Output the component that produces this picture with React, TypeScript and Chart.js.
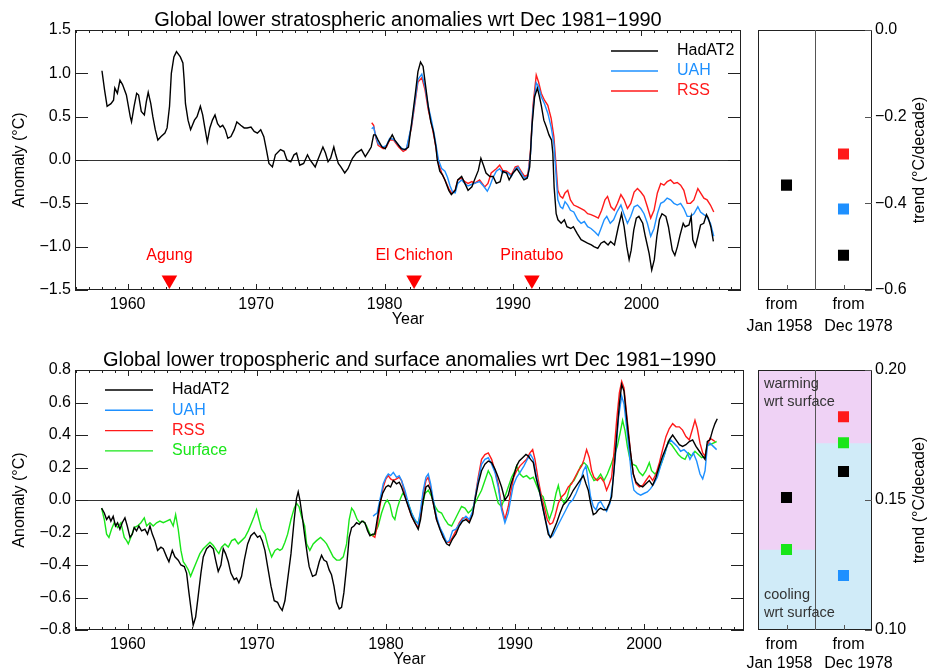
import React, { useEffect, useRef } from 'react';
import { Chart, registerables } from 'chart.js';

Chart.register(...registerables);

const FONT = "'Liberation Sans', Arial, Helvetica, sans-serif";

// ---------------- DATA ----------------
// Global lower stratosphere anomalies (year, °C)
const stratHadAT2: [number, number][] = [
  [1958.0, 1.03], [1958.2, 0.81], [1958.4, 0.62], [1958.7, 0.65], [1958.9, 0.69], [1959.0, 0.83], [1959.2, 0.77], [1959.4, 0.92],
  [1959.6, 0.87], [1959.9, 0.75], [1960.2, 0.5], [1960.3, 0.44], [1960.5, 0.62], [1960.7, 0.77], [1960.85, 0.75], [1961.06, 0.56],
  [1961.3, 0.52], [1961.45, 0.67], [1961.6, 0.78], [1961.8, 0.65], [1961.96, 0.5], [1962.15, 0.35], [1962.35, 0.23], [1962.6, 0.27],
  [1962.9, 0.31], [1963.07, 0.37], [1963.26, 0.62], [1963.4, 1.0], [1963.6, 1.19], [1963.8, 1.25], [1964.1, 1.19], [1964.3, 1.12],
  [1964.4, 0.92], [1964.5, 0.65], [1964.7, 0.46], [1964.9, 0.35], [1965.2, 0.46], [1965.4, 0.5], [1965.66, 0.62], [1965.84, 0.52],
  [1966.0, 0.38], [1966.2, 0.21], [1966.4, 0.37], [1966.6, 0.46], [1966.8, 0.52], [1967.0, 0.42], [1967.2, 0.38], [1967.4, 0.4],
  [1967.6, 0.35], [1967.8, 0.25], [1968.04, 0.27], [1968.3, 0.35], [1968.5, 0.44], [1968.8, 0.4], [1969.07, 0.37], [1969.3, 0.37],
  [1969.6, 0.38], [1969.85, 0.33], [1970.1, 0.31], [1970.36, 0.35], [1970.6, 0.27], [1970.8, 0.12], [1971.0, -0.04], [1971.27, -0.08],
  [1971.5, 0.06], [1971.9, 0.12], [1972.17, 0.1], [1972.4, 0.0], [1972.7, -0.02], [1972.95, 0.06], [1973.15, 0.08], [1973.4, -0.06],
  [1973.7, -0.04], [1974.0, 0.06], [1974.2, 0.0], [1974.6, -0.08], [1974.8, 0.0], [1975.2, 0.15], [1975.4, 0.08], [1975.6, -0.02],
  [1975.8, 0.02], [1976.05, 0.15], [1976.2, 0.06], [1976.4, -0.04], [1976.6, -0.08], [1976.9, -0.15], [1977.15, -0.1], [1977.5, 0.02],
  [1977.8, 0.08], [1978.0, 0.1], [1978.2, 0.12], [1978.5, 0.04], [1978.76, 0.1], [1978.96, 0.15], [1979.15, 0.29], [1979.3, 0.29],
  [1979.5, 0.23], [1979.8, 0.15], [1980.05, 0.13], [1980.3, 0.21], [1980.6, 0.29], [1980.8, 0.23], [1981.1, 0.17], [1981.3, 0.13],
  [1981.6, 0.12], [1981.86, 0.15], [1982.1, 0.42], [1982.4, 0.77], [1982.6, 1.02], [1982.8, 1.13], [1983.0, 1.08], [1983.2, 0.85],
  [1983.4, 0.62], [1983.6, 0.44], [1983.8, 0.33], [1984.0, 0.15], [1984.1, 0.0], [1984.3, -0.13], [1984.5, -0.17], [1984.7, -0.23],
  [1985.0, -0.35], [1985.2, -0.4], [1985.5, -0.35], [1985.7, -0.23], [1986.0, -0.19], [1986.25, -0.27], [1986.5, -0.35], [1986.8, -0.31],
  [1987.0, -0.23], [1987.3, -0.12], [1987.5, 0.02], [1987.7, -0.06], [1987.9, -0.15], [1988.2, -0.19], [1988.45, -0.19], [1988.7, -0.27],
  [1989.0, -0.25], [1989.2, -0.13], [1989.5, -0.15], [1989.7, -0.23], [1990.0, -0.15], [1990.3, -0.1], [1990.6, -0.17], [1990.85, -0.23],
  [1991.1, -0.21], [1991.3, -0.08], [1991.47, 0.38], [1991.68, 0.73], [1991.9, 0.83], [1992.06, 0.73], [1992.2, 0.63], [1992.4, 0.46],
  [1992.6, 0.38], [1992.8, 0.29], [1993.0, 0.23], [1993.1, 0.08], [1993.2, -0.31], [1993.36, -0.62], [1993.5, -0.69], [1993.75, -0.73],
  [1994.0, -0.69], [1994.2, -0.77], [1994.5, -0.79], [1994.7, -0.77], [1995.0, -0.85], [1995.3, -0.92], [1995.55, -0.94], [1995.8, -0.96],
  [1996.1, -0.98], [1996.3, -1.0], [1996.6, -1.02], [1996.85, -0.96], [1997.1, -0.94], [1997.4, -0.98], [1997.6, -0.94], [1997.9, -0.98],
  [1998.2, -0.77], [1998.45, -0.62], [1998.65, -0.77], [1998.86, -1.0], [1999.04, -1.15], [1999.2, -1.04], [1999.4, -0.81], [1999.6, -0.67],
  [1999.8, -0.65], [2000.1, -0.73], [2000.3, -0.88], [2000.6, -1.08], [2000.8, -1.27], [2001.0, -1.15], [2001.2, -0.88], [2001.4, -0.69],
  [2001.6, -0.62], [2001.9, -0.65], [2002.1, -0.77], [2002.4, -1.04], [2002.6, -1.1], [2002.8, -1.0], [2003.0, -0.87], [2003.25, -0.73],
  [2003.4, -0.77], [2003.7, -0.75], [2003.87, -0.65], [2004.0, -0.92], [2004.2, -1.0], [2004.4, -0.88], [2004.6, -0.75], [2004.85, -0.73],
  [2005.06, -0.63], [2005.2, -0.67], [2005.4, -0.77], [2005.6, -0.94],
];

const stratUAH: [number, number][] = [
  [1979.0, 0.36], [1979.15, 0.38], [1979.3, 0.28], [1979.5, 0.19], [1979.9, 0.15], [1980.15, 0.17], [1980.4, 0.25], [1980.7, 0.24],
  [1981.1, 0.17], [1981.45, 0.12], [1981.7, 0.13], [1982.1, 0.4], [1982.4, 0.72], [1982.6, 0.93], [1982.9, 0.99], [1983.15, 0.85],
  [1983.4, 0.62], [1983.65, 0.46], [1983.9, 0.27], [1984.2, 0.0], [1984.45, -0.1], [1984.7, -0.13], [1984.9, -0.2], [1985.1, -0.3],
  [1985.3, -0.37], [1985.5, -0.38], [1985.7, -0.27], [1986.0, -0.23], [1986.25, -0.27], [1986.5, -0.3], [1986.8, -0.28], [1987.0, -0.27],
  [1987.4, -0.25], [1987.7, -0.3], [1988.0, -0.36], [1988.2, -0.3], [1988.45, -0.2], [1988.7, -0.13], [1988.96, -0.1], [1989.2, -0.15],
  [1989.4, -0.14], [1989.6, -0.15], [1989.87, -0.19], [1990.18, -0.1], [1990.39, -0.08], [1990.64, -0.15], [1990.9, -0.21], [1991.16, -0.19],
  [1991.37, 0.08], [1991.55, 0.58], [1991.81, 0.89], [1991.99, 0.85], [1992.2, 0.73], [1992.45, 0.65], [1992.71, 0.54], [1992.97, 0.38],
  [1993.18, 0.19], [1993.36, -0.19], [1993.49, -0.46], [1993.69, -0.54], [1993.87, -0.56], [1994.05, -0.48], [1994.26, -0.52], [1994.47, -0.58],
  [1994.73, -0.6], [1995.04, -0.69], [1995.3, -0.73], [1995.55, -0.71], [1995.81, -0.77], [1996.07, -0.79], [1996.38, -0.83], [1996.64, -0.87],
  [1996.85, -0.79], [1997.1, -0.69], [1997.3, -0.65], [1997.57, -0.73], [1997.83, -0.69], [1998.09, -0.6], [1998.4, -0.52], [1998.65, -0.63],
  [1998.91, -0.73], [1999.17, -0.65], [1999.43, -0.54], [1999.69, -0.52], [1999.95, -0.56], [2000.2, -0.62], [2000.46, -0.73], [2000.72, -0.88],
  [2000.98, -0.79], [2001.24, -0.62], [2001.5, -0.5], [2001.75, -0.48], [2002.0, -0.44], [2002.27, -0.46], [2002.53, -0.5], [2002.79, -0.52],
  [2003.05, -0.5], [2003.3, -0.56], [2003.56, -0.65], [2003.82, -0.65], [2004.08, -0.62], [2004.39, -0.54], [2004.6, -0.6], [2004.86, -0.63],
  [2005.06, -0.65], [2005.37, -0.73], [2005.63, -0.88],
];

const stratRSS: [number, number][] = [
  [1979.0, 0.43], [1979.15, 0.4], [1979.3, 0.27], [1979.5, 0.17], [1979.9, 0.13], [1980.15, 0.15], [1980.4, 0.23], [1980.7, 0.23],
  [1981.1, 0.15], [1981.45, 0.1], [1981.7, 0.12], [1982.1, 0.38], [1982.4, 0.69], [1982.6, 0.9], [1982.9, 0.95], [1983.15, 0.81],
  [1983.4, 0.58], [1983.65, 0.42], [1983.9, 0.23], [1984.2, -0.04], [1984.45, -0.15], [1984.7, -0.23], [1985.0, -0.33], [1985.2, -0.38],
  [1985.5, -0.35], [1985.7, -0.23], [1986.0, -0.21], [1986.25, -0.25], [1986.5, -0.27], [1986.8, -0.25], [1987.0, -0.27], [1987.4, -0.23],
  [1987.8, -0.31], [1988.05, -0.27], [1988.3, -0.15], [1988.7, -0.1], [1988.96, -0.06], [1989.2, -0.12], [1989.5, -0.13], [1989.87, -0.17],
  [1990.18, -0.08], [1990.39, -0.07], [1990.64, -0.13], [1990.9, -0.19], [1991.16, -0.17], [1991.37, 0.12], [1991.55, 0.62], [1991.81, 0.98],
  [1991.99, 0.9], [1992.2, 0.77], [1992.45, 0.69], [1992.71, 0.63], [1992.97, 0.48], [1993.18, 0.27], [1993.36, -0.08], [1993.49, -0.35],
  [1993.69, -0.42], [1993.87, -0.44], [1994.05, -0.38], [1994.26, -0.35], [1994.47, -0.46], [1994.73, -0.52], [1995.04, -0.54], [1995.3, -0.56],
  [1995.55, -0.58], [1995.81, -0.62], [1996.07, -0.63], [1996.38, -0.65], [1996.64, -0.67], [1996.9, -0.58], [1997.16, -0.46], [1997.36, -0.42],
  [1997.62, -0.54], [1997.88, -0.58], [1998.14, -0.5], [1998.4, -0.4], [1998.65, -0.46], [1998.91, -0.56], [1999.17, -0.5], [1999.43, -0.37],
  [1999.69, -0.33], [1999.95, -0.37], [2000.2, -0.42], [2000.46, -0.54], [2000.72, -0.67], [2000.98, -0.58], [2001.24, -0.38], [2001.5, -0.27],
  [2001.75, -0.29], [2002.0, -0.25], [2002.27, -0.23], [2002.53, -0.27], [2002.79, -0.26], [2003.05, -0.29], [2003.3, -0.35], [2003.56, -0.5],
  [2003.82, -0.5], [2004.08, -0.46], [2004.39, -0.33], [2004.6, -0.38], [2004.86, -0.44], [2005.11, -0.46], [2005.37, -0.52], [2005.63, -0.6],
];

// Global lower troposphere and surface anomalies (year, °C)
const tropHadAT2: [number, number][] = [
  [1957.96, -0.05], [1958.17, -0.08], [1958.35, -0.12], [1958.53, -0.1], [1958.68, -0.13], [1958.86, -0.1], [1959.04, -0.16], [1959.2, -0.14],
  [1959.38, -0.18], [1959.56, -0.14], [1959.77, -0.11], [1959.95, -0.16], [1960.16, -0.23], [1960.34, -0.21], [1960.49, -0.17], [1960.67, -0.19],
  [1960.85, -0.16], [1961.06, -0.19], [1961.32, -0.18], [1961.52, -0.21], [1961.71, -0.16], [1961.89, -0.21], [1962.09, -0.25], [1962.3, -0.31],
  [1962.56, -0.29], [1962.74, -0.3], [1963.0, -0.35], [1963.18, -0.38], [1963.44, -0.31], [1963.64, -0.35], [1963.9, -0.37], [1964.11, -0.4],
  [1964.37, -0.41], [1964.55, -0.45], [1964.73, -0.57], [1964.94, -0.7], [1965.06, -0.77], [1965.25, -0.72], [1965.45, -0.59], [1965.66, -0.45],
  [1965.84, -0.35], [1966.1, -0.3], [1966.36, -0.28], [1966.62, -0.3], [1966.8, -0.37], [1967.0, -0.44], [1967.21, -0.4], [1967.39, -0.3],
  [1967.57, -0.33], [1967.78, -0.38], [1967.98, -0.45], [1968.24, -0.49], [1968.42, -0.48], [1968.6, -0.51], [1968.81, -0.47], [1969.02, -0.37],
  [1969.28, -0.27], [1969.53, -0.22], [1969.79, -0.2], [1970.05, -0.23], [1970.23, -0.22], [1970.41, -0.25], [1970.62, -0.31], [1970.83, -0.41],
  [1971.09, -0.53], [1971.34, -0.62], [1971.6, -0.63], [1971.78, -0.66], [1971.96, -0.68], [1972.17, -0.62], [1972.38, -0.49], [1972.64, -0.33],
  [1972.89, -0.12], [1973.07, 0.01], [1973.2, 0.05], [1973.33, 0.0], [1973.51, -0.1], [1973.72, -0.23], [1973.93, -0.35], [1974.05, -0.41],
  [1974.31, -0.47], [1974.57, -0.46], [1974.83, -0.38], [1975.01, -0.34], [1975.19, -0.37], [1975.4, -0.38], [1975.6, -0.43], [1975.78, -0.46],
  [1975.97, -0.53], [1976.17, -0.63], [1976.38, -0.67], [1976.56, -0.66], [1976.74, -0.57], [1976.95, -0.41], [1977.15, -0.23], [1977.34, -0.17],
  [1977.52, -0.16], [1977.72, -0.14], [1977.93, -0.15], [1978.14, -0.13], [1978.37, -0.14], [1978.58, -0.19], [1978.76, -0.22], [1978.96, -0.21],
  [1979.14, -0.21], [1979.32, -0.12], [1979.53, -0.02], [1979.74, 0.04], [1980.0, 0.08], [1980.18, 0.09], [1980.36, 0.08], [1980.57, 0.12],
  [1980.82, 0.1], [1981.03, 0.11], [1981.21, 0.08], [1981.47, 0.02], [1981.73, -0.04], [1981.99, -0.1], [1982.24, -0.14], [1982.5, -0.18],
  [1982.68, -0.12], [1982.89, 0.0], [1983.1, 0.08], [1983.28, 0.09], [1983.46, 0.06], [1983.67, -0.02], [1983.92, -0.12], [1984.18, -0.18],
  [1984.44, -0.23], [1984.7, -0.27], [1984.91, -0.28], [1985.16, -0.24], [1985.42, -0.21], [1985.68, -0.16], [1985.94, -0.13], [1986.2, -0.12],
  [1986.46, -0.14], [1986.72, -0.09], [1986.9, 0.0], [1987.15, 0.1], [1987.41, 0.18], [1987.67, 0.22], [1987.93, 0.24], [1988.19, 0.23],
  [1988.45, 0.19], [1988.7, 0.14], [1988.96, 0.08], [1989.22, 0.0], [1989.48, 0.03], [1989.7, 0.1], [1989.87, 0.14], [1990.13, 0.21],
  [1990.33, 0.24], [1990.59, 0.26], [1990.85, 0.28], [1991.03, 0.27], [1991.21, 0.25], [1991.42, 0.23], [1991.63, 0.14], [1991.88, 0.06],
  [1992.14, -0.04], [1992.4, -0.14], [1992.58, -0.21], [1992.76, -0.23], [1992.97, -0.19], [1993.23, -0.14], [1993.49, -0.08], [1993.74, -0.03],
  [1994.0, -0.01], [1994.26, 0.02], [1994.52, 0.06], [1994.78, 0.09], [1995.04, 0.12], [1995.3, 0.15], [1995.5, 0.1], [1995.68, 0.06],
  [1995.86, -0.02], [1996.07, -0.09], [1996.28, -0.08], [1996.46, -0.06], [1996.64, -0.05], [1996.85, -0.06], [1997.1, -0.06], [1997.31, -0.02],
  [1997.49, 0.02], [1997.67, 0.18], [1997.88, 0.39], [1998.09, 0.59], [1998.27, 0.71], [1998.45, 0.67], [1998.6, 0.55], [1998.78, 0.41],
  [1998.96, 0.29], [1999.17, 0.16], [1999.38, 0.11], [1999.64, 0.09], [1999.9, 0.08], [2000.15, 0.1], [2000.41, 0.12], [2000.67, 0.09],
  [2000.93, 0.14], [2001.19, 0.21], [2001.44, 0.27], [2001.7, 0.32], [2001.96, 0.37], [2002.22, 0.4], [2002.48, 0.37], [2002.74, 0.34],
  [2002.99, 0.33], [2003.25, 0.34], [2003.51, 0.36], [2003.77, 0.37], [2004.03, 0.33], [2004.29, 0.3], [2004.55, 0.27], [2004.73, 0.25],
  [2004.91, 0.36], [2005.11, 0.37], [2005.32, 0.43], [2005.5, 0.47], [2005.68, 0.5],
];

const tropUAH: [number, number][] = [
  [1979.0, -0.1], [1979.14, -0.09], [1979.32, -0.08], [1979.53, 0.0], [1979.79, 0.1], [1980.0, 0.14], [1980.18, 0.16], [1980.36, 0.15],
  [1980.57, 0.17], [1980.82, 0.14], [1981.03, 0.15], [1981.21, 0.12], [1981.47, 0.06], [1981.73, -0.02], [1981.99, -0.08], [1982.24, -0.12],
  [1982.5, -0.15], [1982.68, -0.06], [1982.89, 0.06], [1983.1, 0.14], [1983.28, 0.16], [1983.46, 0.1], [1983.67, 0.0], [1983.92, -0.1],
  [1984.18, -0.17], [1984.44, -0.21], [1984.7, -0.26], [1984.91, -0.25], [1985.16, -0.19], [1985.42, -0.18], [1985.68, -0.15], [1985.94, -0.12],
  [1986.2, -0.1], [1986.46, -0.12], [1986.72, -0.07], [1986.9, 0.01], [1987.15, 0.12], [1987.41, 0.22], [1987.67, 0.25], [1987.93, 0.26],
  [1988.19, 0.22], [1988.45, 0.17], [1988.7, 0.08], [1988.96, -0.06], [1989.22, -0.14], [1989.48, -0.08], [1989.61, -0.02], [1989.87, 0.09],
  [1990.13, 0.14], [1990.39, 0.17], [1990.7, 0.21], [1990.95, 0.25], [1991.21, 0.28], [1991.42, 0.25], [1991.68, 0.14], [1991.94, 0.04],
  [1992.19, -0.06], [1992.45, -0.15], [1992.71, -0.23], [1992.92, -0.22], [1993.18, -0.18], [1993.43, -0.14], [1993.69, -0.1], [1993.95, -0.06],
  [1994.21, -0.02], [1994.47, 0.0], [1994.73, 0.04], [1995.04, 0.1], [1995.3, 0.18], [1995.5, 0.21], [1995.68, 0.12], [1995.86, 0.02],
  [1996.07, -0.04], [1996.28, -0.06], [1996.46, -0.02], [1996.64, -0.01], [1996.85, -0.04], [1997.1, -0.07], [1997.36, -0.02], [1997.57, 0.1],
  [1997.83, 0.31], [1998.03, 0.51], [1998.27, 0.64], [1998.45, 0.59], [1998.65, 0.45], [1998.86, 0.29], [1999.04, 0.14], [1999.22, 0.06],
  [1999.48, 0.04], [1999.74, 0.03], [1999.99, 0.04], [2000.26, 0.05], [2000.51, 0.07], [2000.77, 0.1], [2001.03, 0.14], [2001.29, 0.21],
  [2001.55, 0.27], [2001.81, 0.34], [2002.06, 0.37], [2002.32, 0.35], [2002.58, 0.33], [2002.84, 0.3], [2003.1, 0.31], [2003.36, 0.29],
  [2003.56, 0.25], [2003.82, 0.29], [2004.08, 0.24], [2004.34, 0.16], [2004.55, 0.13], [2004.73, 0.18], [2004.91, 0.33], [2005.11, 0.35],
  [2005.37, 0.33], [2005.63, 0.31],
];

const tropRSS: [number, number][] = [
  [1978.96, -0.22], [1979.14, -0.23], [1979.32, -0.16], [1979.53, -0.04], [1979.79, 0.08], [1980.0, 0.13], [1980.18, 0.15], [1980.36, 0.13],
  [1980.57, 0.12], [1980.82, 0.13], [1981.03, 0.14], [1981.21, 0.12], [1981.47, 0.04], [1981.73, -0.04], [1981.99, -0.1], [1982.24, -0.14],
  [1982.5, -0.17], [1982.68, -0.1], [1982.89, 0.04], [1983.1, 0.12], [1983.28, 0.14], [1983.46, 0.08], [1983.67, -0.02], [1983.92, -0.12],
  [1984.18, -0.17], [1984.44, -0.23], [1984.7, -0.26], [1984.91, -0.26], [1985.16, -0.23], [1985.42, -0.19], [1985.68, -0.14], [1985.94, -0.11],
  [1986.2, -0.11], [1986.46, -0.13], [1986.72, -0.08], [1986.9, 0.01], [1987.15, 0.14], [1987.41, 0.25], [1987.67, 0.28], [1987.93, 0.29],
  [1988.19, 0.25], [1988.45, 0.18], [1988.7, 0.1], [1988.96, -0.04], [1989.22, -0.12], [1989.48, -0.04], [1989.7, 0.06], [1989.9, 0.14],
  [1990.13, 0.18], [1990.39, 0.21], [1990.64, 0.23], [1990.9, 0.25], [1991.16, 0.29], [1991.37, 0.31], [1991.55, 0.25], [1991.81, 0.12],
  [1992.06, 0.02], [1992.32, -0.06], [1992.5, -0.12], [1992.71, -0.15], [1992.92, -0.14], [1993.1, -0.1], [1993.36, -0.02], [1993.62, 0.02],
  [1993.87, 0.04], [1994.13, 0.08], [1994.39, 0.1], [1994.65, 0.14], [1994.91, 0.18], [1995.17, 0.21], [1995.35, 0.25], [1995.55, 0.31],
  [1995.76, 0.26], [1995.94, 0.18], [1996.12, 0.14], [1996.38, 0.12], [1996.64, 0.14], [1996.9, 0.11], [1997.1, 0.06], [1997.31, 0.1],
  [1997.49, 0.14], [1997.67, 0.29], [1997.88, 0.49], [1998.09, 0.66], [1998.27, 0.73], [1998.45, 0.69], [1998.6, 0.57], [1998.78, 0.43],
  [1998.96, 0.29], [1999.17, 0.16], [1999.38, 0.1], [1999.64, 0.08], [1999.9, 0.09], [2000.15, 0.12], [2000.41, 0.15], [2000.67, 0.12],
  [2000.93, 0.16], [2001.19, 0.23], [2001.44, 0.31], [2001.7, 0.39], [2001.96, 0.44], [2002.22, 0.47], [2002.48, 0.45], [2002.74, 0.45],
  [2002.99, 0.43], [2003.25, 0.39], [2003.51, 0.37], [2003.77, 0.44], [2003.95, 0.49], [2004.13, 0.44], [2004.34, 0.35], [2004.55, 0.29],
  [2004.73, 0.27], [2004.91, 0.33], [2005.11, 0.38], [2005.32, 0.37], [2005.5, 0.36],
];

const tropSurface: [number, number][] = [
  [1957.96, -0.05], [1958.17, -0.12], [1958.35, -0.21], [1958.53, -0.23], [1958.73, -0.18], [1958.94, -0.14], [1959.2, -0.17], [1959.46, -0.14],
  [1959.72, -0.23], [1959.9, -0.25], [1960.03, -0.27], [1960.23, -0.23], [1960.49, -0.17], [1960.75, -0.16], [1961.01, -0.14], [1961.27, -0.11],
  [1961.45, -0.16], [1961.71, -0.14], [1961.96, -0.16], [1962.22, -0.14], [1962.48, -0.13], [1962.74, -0.14], [1963.0, -0.13], [1963.26, -0.12],
  [1963.51, -0.16], [1963.7, -0.09], [1963.9, -0.18], [1964.11, -0.31], [1964.29, -0.38], [1964.47, -0.4], [1964.68, -0.43], [1964.86, -0.47],
  [1965.06, -0.43], [1965.32, -0.38], [1965.58, -0.33], [1965.84, -0.3], [1966.1, -0.28], [1966.36, -0.26], [1966.62, -0.28], [1966.87, -0.31],
  [1967.05, -0.33], [1967.26, -0.29], [1967.52, -0.27], [1967.78, -0.29], [1968.04, -0.25], [1968.29, -0.24], [1968.55, -0.27], [1968.81, -0.25],
  [1969.07, -0.23], [1969.33, -0.19], [1969.59, -0.14], [1969.79, -0.1], [1969.97, -0.06], [1970.16, -0.12], [1970.36, -0.18], [1970.62, -0.21],
  [1970.88, -0.29], [1971.14, -0.35], [1971.4, -0.31], [1971.6, -0.3], [1971.78, -0.31], [1971.96, -0.3], [1972.17, -0.26], [1972.38, -0.21],
  [1972.64, -0.12], [1972.89, -0.05], [1973.07, -0.02], [1973.26, -0.04], [1973.45, -0.1], [1973.7, -0.16], [1973.85, -0.27], [1974.1, -0.31],
  [1974.36, -0.27], [1974.62, -0.25], [1974.93, -0.23], [1975.19, -0.25], [1975.4, -0.27], [1975.66, -0.31], [1975.91, -0.35], [1976.17, -0.37],
  [1976.43, -0.37], [1976.69, -0.35], [1976.95, -0.27], [1977.15, -0.12], [1977.34, -0.05], [1977.52, -0.07], [1977.77, -0.12], [1977.98, -0.14],
  [1978.24, -0.13], [1978.5, -0.16], [1978.76, -0.21], [1979.01, -0.22], [1979.22, -0.19], [1979.4, -0.16], [1979.66, -0.08], [1979.92, -0.02],
  [1980.1, 0.0], [1980.31, -0.03], [1980.51, -0.1], [1980.69, -0.12], [1980.88, -0.05], [1981.08, 0.0], [1981.29, 0.04], [1981.47, 0.03],
  [1981.73, -0.02], [1981.99, -0.08], [1982.24, -0.13], [1982.5, -0.14], [1982.76, -0.06], [1983.02, 0.04], [1983.28, 0.06], [1983.54, 0.02],
  [1983.8, -0.04], [1984.05, -0.07], [1984.31, -0.08], [1984.57, -0.12], [1984.83, -0.15], [1985.09, -0.16], [1985.35, -0.12], [1985.6, -0.08],
  [1985.86, -0.04], [1986.12, -0.05], [1986.38, -0.08], [1986.64, -0.06], [1986.9, -0.02], [1987.15, 0.02], [1987.41, 0.06], [1987.67, 0.12],
  [1987.93, 0.18], [1988.19, 0.14], [1988.45, 0.06], [1988.7, -0.02], [1988.96, -0.04], [1989.22, 0.02], [1989.48, 0.08], [1989.74, 0.14],
  [1990.0, 0.18], [1990.13, 0.21], [1990.39, 0.16], [1990.64, 0.14], [1990.9, 0.15], [1991.16, 0.13], [1991.42, 0.14], [1991.68, 0.09],
  [1991.94, 0.04], [1992.19, 0.02], [1992.45, -0.06], [1992.66, -0.12], [1992.92, -0.06], [1993.18, 0.04], [1993.36, 0.09], [1993.54, 0.02],
  [1993.8, -0.02], [1994.05, 0.02], [1994.31, 0.1], [1994.57, 0.12], [1994.83, 0.16], [1995.09, 0.21], [1995.35, 0.23], [1995.6, 0.21],
  [1995.86, 0.16], [1996.12, 0.12], [1996.38, 0.13], [1996.64, 0.16], [1996.9, 0.12], [1997.16, 0.16], [1997.41, 0.21], [1997.67, 0.27],
  [1997.93, 0.33], [1998.14, 0.41], [1998.34, 0.49], [1998.52, 0.43], [1998.71, 0.33], [1998.91, 0.25], [1999.12, 0.22], [1999.38, 0.21],
  [1999.64, 0.17], [1999.9, 0.15], [2000.15, 0.18], [2000.41, 0.23], [2000.59, 0.18], [2000.85, 0.16], [2001.11, 0.18], [2001.37, 0.23],
  [2001.63, 0.29], [2001.88, 0.36], [2002.14, 0.34], [2002.4, 0.31], [2002.66, 0.28], [2002.92, 0.26], [2003.18, 0.25], [2003.43, 0.29],
  [2003.69, 0.27], [2003.95, 0.3], [2004.21, 0.28], [2004.47, 0.26], [2004.73, 0.27], [2004.91, 0.34], [2005.11, 0.34], [2005.37, 0.35],
  [2005.63, 0.36],
];

// Volcanic eruptions
const volcanoNames = ['Agung', 'El Chichon', 'Pinatubo'];
const volcanoYears = [1963.25, 1982.3, 1991.47];

// Trends (°C/decade) for the two start dates
const trendPeriods = [['from', 'Jan 1958'], ['from', 'Dec 1978']];
const stratTrendHadAT2 = [-0.358, -0.52];
const stratTrendUAH = [null, -0.413];
const stratTrendRSS = [null, -0.286];
const tropTrendHadAT2 = [0.151, 0.161];
const tropTrendUAH = [null, 0.121];
const tropTrendRSS = [null, 0.182];
const tropTrendSurface = [0.131, 0.172];

// ---------------- STYLE ----------------
const C_HAD = '#000000';
const C_UAH = '#1e90ff';
const C_RSS = '#ff1a1a';
const C_SFC = '#19e619';
const PINK = '#efd2f5';
const SKY = '#d0ebf8';
const INK = '#222222';

const X_MIN = 1955.9;
const X_MAX = 2007.75;

const fmtTick = (v: number, d: number) => {
  const s = Math.abs(v).toFixed(d);
  return v < -1e-9 ? '\u2212' + s : s;
};
const toXY = (a: [number, number][]) => a.map(([x, y]) => ({ x, y }));

type Series = { label: string; color: string; data: [number, number][] };

type MainCfg = {
  title: string;
  yMin: number; yMax: number; yStep: number; dec: number;
  series: Series[];
  xAxisH: number;
  legend: { x0: number; x1: number; tx: number; y0: number; dy: number };
  volcanoes: boolean;
};

function makeMain(canvas: HTMLCanvasElement, o: MainCfg) {
  const framePlugin = {
    id: 'frame',
    beforeDatasetsDraw(chart: any) {
      const { ctx, chartArea: a, scales } = chart;
      const y0 = Math.round(scales.y.getPixelForValue(0)) + 0.5;
      ctx.save();
      ctx.strokeStyle = '#333';
      ctx.lineWidth = 1;
      ctx.beginPath();
      ctx.moveTo(a.left, y0);
      ctx.lineTo(a.right, y0);
      ctx.stroke();
      ctx.restore();
    },
    afterDatasetsDraw(chart: any) {
      const { ctx, chartArea: a, scales } = chart;
      const xs = scales.x, ys = scales.y;
      ctx.save();
      ctx.strokeStyle = INK;
      ctx.lineWidth = 1;
      ctx.strokeRect(a.left + 0.5, a.top + 0.5, a.right - a.left - 1, a.bottom - a.top - 1);
      ctx.beginPath();
      for (let yr = Math.ceil(X_MIN); yr <= X_MAX; yr++) {
        const px = Math.round(xs.getPixelForValue(yr)) + 0.5;
        const len = yr % 10 === 0 ? 6 : 3;
        ctx.moveTo(px, a.bottom); ctx.lineTo(px, a.bottom - len);
        ctx.moveTo(px, a.top); ctx.lineTo(px, a.top + len);
      }
      ys.ticks.forEach((t: any) => {
        const py = Math.round(ys.getPixelForValue(t.value)) + 0.5;
        ctx.moveTo(a.left, py); ctx.lineTo(a.left + 13, py);
        ctx.moveTo(a.right, py); ctx.lineTo(a.right - 13, py);
      });
      ctx.stroke();

      // title
      ctx.fillStyle = '#000';
      ctx.font = `20px ${FONT}`;
      ctx.textAlign = 'center';
      ctx.textBaseline = 'alphabetic';
      ctx.fillText(o.title, (a.left + a.right) / 2, a.top - 4);

      // axis titles
      ctx.font = `16px ${FONT}`;
      ctx.textBaseline = 'middle';
      ctx.fillText('Year', (a.left + a.right) / 2, a.bottom + 30);
      ctx.save();
      ctx.translate(20, (a.top + a.bottom) / 2);
      ctx.rotate(-Math.PI / 2);
      ctx.fillText('Anomaly (\u00B0C)', 0, 0);
      ctx.restore();

      // legend
      const L = o.legend;
      o.series.forEach((s, i) => {
        const y = L.y0 + i * L.dy;
        ctx.strokeStyle = s.color;
        ctx.lineWidth = 1.4;
        ctx.beginPath();
        ctx.moveTo(L.x0, y); ctx.lineTo(L.x1, y);
        ctx.stroke();
        ctx.fillStyle = s.color;
        ctx.textAlign = 'left';
        ctx.fillText(s.label, L.tx, y);
      });

      // volcano labels
      if (o.volcanoes) {
        ctx.fillStyle = '#ff0000';
        ctx.textAlign = 'center';
        volcanoNames.forEach((n, i) => {
          ctx.fillText(n, xs.getPixelForValue(volcanoYears[i]), ys.getPixelForValue(-1.1));
        });
      }
      ctx.restore();
    },
  };

  const datasets: any[] = o.series.map((s) => ({
    label: s.label,
    data: toXY(s.data),
    borderColor: s.color,
    backgroundColor: s.color,
    borderWidth: 1.4,
    pointRadius: 0,
    tension: 0,
    fill: false,
  }));
  if (o.volcanoes) {
    datasets.push({
      label: 'eruptions',
      data: volcanoYears.map((x) => ({ x, y: -1.385 })),
      showLine: false,
      pointStyle: 'triangle',
      rotation: 180,
      pointRadius: 9,
      pointBackgroundColor: '#ff0000',
      pointBorderColor: '#ff0000',
      pointBorderWidth: 0,
    });
  }

  return new Chart(canvas, {
    type: 'line',
    data: { datasets },
    options: {
      responsive: false,
      animation: false,
      devicePixelRatio: 1,
      layout: { padding: { left: 0, right: 6, top: 30, bottom: 0 } },
      plugins: { legend: { display: false }, tooltip: { enabled: false }, title: { display: false } },
      scales: {
        x: {
          type: 'linear', min: X_MIN, max: X_MAX, position: 'bottom',
          afterFit: (s: any) => { s.height = o.xAxisH; },
          grid: { display: false, drawTicks: false },
          border: { display: false },
          ticks: {
            stepSize: 10, includeBounds: false, autoSkip: false, maxRotation: 0, minRotation: 0,
            padding: 5, color: '#000', font: { family: FONT, size: 16 },
            callback: (v: any) => String(v),
          },
        },
        y: {
          type: 'linear', min: o.yMin, max: o.yMax, position: 'left',
          afterFit: (s: any) => { s.width = 75; },
          grid: { display: false, drawTicks: false },
          border: { display: false },
          ticks: {
            stepSize: o.yStep, padding: 4, color: '#000', font: { family: FONT, size: 16 },
            callback: (v: any) => fmtTick(Number(v), o.dec),
          },
        },
      },
    },
    plugins: [framePlugin],
  } as any);
}

type TrendCfg = {
  yMin: number; yMax: number; yStep: number; dec: number;
  points: { color: string; data: (number | null)[] }[];
  bands: boolean;
  xAxisH: number;
  lineH: number;
};

function makeTrend(canvas: HTMLCanvasElement, o: TrendCfg) {
  const plugin = {
    id: 'trendFrame',
    afterDatasetsDraw(chart: any) {
      const { ctx, chartArea: a, scales } = chart;
      const xs = scales.x, ys = scales.y;
      ctx.save();
      ctx.strokeStyle = INK;
      ctx.lineWidth = 1;
      ctx.strokeRect(a.left + 0.5, a.top + 0.5, a.right - a.left - 1, a.bottom - a.top - 1);
      ctx.beginPath();
      const mid = Math.round((a.left + a.right) / 2) + 0.5;
      ctx.moveTo(mid, a.top); ctx.lineTo(mid, a.bottom);
      ys.ticks.forEach((t: any) => {
        const py = Math.round(ys.getPixelForValue(t.value)) + 0.5;
        ctx.moveTo(a.right, py); ctx.lineTo(a.right - 7, py);
      });
      trendPeriods.forEach((_, i) => {
        const px = Math.round(xs.getPixelForValue(i)) + 0.5;
        ctx.moveTo(px, a.bottom); ctx.lineTo(px, a.bottom - 5);
      });
      ctx.strokeStyle = '#555';
      ctx.stroke();

      ctx.fillStyle = '#000';
      ctx.font = `16px ${FONT}`;
      ctx.textAlign = 'center';
      ctx.textBaseline = 'middle';
      const off1 = [-5, 5];
      const off2 = [-7, 15];
      trendPeriods.forEach((lines, i) => {
        const px = xs.getPixelForValue(i);
        ctx.fillText(lines[0], px + off1[i], a.bottom + 15);
        ctx.fillText(lines[1], px + off2[i], a.bottom + 15 + o.lineH);
      });
      ctx.save();
      ctx.translate(a.right + 48, (a.top + a.bottom) / 2);
      ctx.rotate(-Math.PI / 2);
      ctx.fillText('trend (\u00B0C/decade)', 0, 0);
      ctx.restore();

      if (o.bands) {
        ctx.fillStyle = '#333';
        ctx.font = `14.5px ${FONT}`;
        ctx.textAlign = 'left';
        ctx.fillText('warming', a.left + 6, a.top + 14);
        ctx.fillText('wrt surface', a.left + 6, a.top + 32);
        ctx.fillText('cooling', a.left + 6, a.bottom - 35);
        ctx.fillText('wrt surface', a.left + 6, a.bottom - 17);
      }
      ctx.restore();
    },
  };

  const datasets: any[] = [];
  o.points.forEach((p) => {
    datasets.push({
      type: 'line',
      data: p.data,
      showLine: false,
      pointStyle: 'rect',
      pointRadius: 7.8,
      pointBackgroundColor: p.color,
      pointBorderColor: p.color,
      pointBorderWidth: 0,
      order: 0,
    });
  });
  if (o.bands) {
    datasets.push({
      type: 'bar',
      data: tropTrendSurface.map((v) => [v, o.yMax]),
      backgroundColor: PINK,
      borderWidth: 0,
      barPercentage: 1,
      categoryPercentage: 1,
      grouped: false,
      order: 5,
    });
    datasets.push({
      type: 'bar',
      data: tropTrendSurface.map((v) => [o.yMin, v]),
      backgroundColor: SKY,
      borderWidth: 0,
      barPercentage: 1,
      categoryPercentage: 1,
      grouped: false,
      order: 5,
    });
  }

  return new Chart(canvas, {
    type: 'bar',
    data: { labels: trendPeriods.map((l) => l.join(' ')), datasets },
    options: {
      responsive: false,
      animation: false,
      devicePixelRatio: 1,
      layout: { padding: { left: 18, right: 0, top: 30, bottom: 0 } },
      plugins: { legend: { display: false }, tooltip: { enabled: false }, title: { display: false } },
      scales: {
        x: {
          type: 'category', offset: true,
          afterFit: (s: any) => { s.height = o.xAxisH; },
          grid: { display: false, drawTicks: false },
          border: { display: false },
          ticks: { display: false },
        },
        y: {
          type: 'linear', position: 'right', min: o.yMin, max: o.yMax,
          afterFit: (s: any) => { s.width = 56; },
          grid: { display: false, drawTicks: false },
          border: { display: false },
          ticks: {
            stepSize: o.yStep, padding: 3, color: '#000', font: { family: FONT, size: 16 },
            callback: (v: any) => fmtTick(Number(v), o.dec),
          },
        },
      },
    },
    plugins: [plugin],
  } as any);
}

export default function App() {
  const r1 = useRef<HTMLCanvasElement>(null);
  const r2 = useRef<HTMLCanvasElement>(null);
  const r3 = useRef<HTMLCanvasElement>(null);
  const r4 = useRef<HTMLCanvasElement>(null);

  useEffect(() => {
    const charts = [
      makeMain(r1.current!, {
        title: 'Global lower stratospheric anomalies wrt Dec 1981\u22121990',
        yMin: -1.5, yMax: 1.5, yStep: 0.5, dec: 1,
        series: [
          { label: 'HadAT2', color: C_HAD, data: stratHadAT2 },
          { label: 'UAH', color: C_UAH, data: stratUAH },
          { label: 'RSS', color: C_RSS, data: stratRSS },
        ],
        xAxisH: 50,
        legend: { x0: 611, x1: 658, tx: 677, y0: 51, dy: 20 },
        volcanoes: true,
      }),
      makeTrend(r2.current!, {
        yMin: -0.6, yMax: 0.0, yStep: 0.2, dec: 1,
        points: [
          { color: C_HAD, data: stratTrendHadAT2 },
          { color: C_UAH, data: stratTrendUAH },
          { color: C_RSS, data: stratTrendRSS },
        ],
        bands: false,
        xAxisH: 50,
        lineH: 22,
      }),
      makeMain(r3.current!, {
        title: 'Global lower tropospheric and surface anomalies wrt Dec 1981\u22121990',
        yMin: -0.8, yMax: 0.8, yStep: 0.2, dec: 1,
        series: [
          { label: 'HadAT2', color: C_HAD, data: tropHadAT2 },
          { label: 'UAH', color: C_UAH, data: tropUAH },
          { label: 'RSS', color: C_RSS, data: tropRSS },
          { label: 'Surface', color: C_SFC, data: tropSurface },
        ],
        xAxisH: 42,
        legend: { x0: 105, x1: 153, tx: 172, y0: 50, dy: 20.3 },
        volcanoes: false,
      }),
      makeTrend(r4.current!, {
        yMin: 0.1, yMax: 0.2, yStep: 0.05, dec: 2,
        points: [
          { color: C_HAD, data: tropTrendHadAT2 },
          { color: C_UAH, data: tropTrendUAH },
          { color: C_RSS, data: tropTrendRSS },
          { color: C_SFC, data: tropTrendSurface },
        ],
        bands: true,
        xAxisH: 42,
        lineH: 19,
      }),
    ];
    return () => charts.forEach((c) => c.destroy());
  }, []);

  const abs = (l: number, t: number): React.CSSProperties => ({ position: 'absolute', left: l, top: t });

  return (
    <div style={{ position: 'absolute', left: 0, top: 0, width: 928, height: 672, background: '#fff', overflow: 'hidden' }}>
      <canvas ref={r1} width={750} height={340} style={abs(0, 0)} />
      <canvas ref={r3} width={750} height={332} style={abs(0, 340)} />
      <canvas ref={r2} width={188} height={340} style={abs(740, 0)} />
      <canvas ref={r4} width={188} height={332} style={abs(740, 340)} />
    </div>
  );
}
